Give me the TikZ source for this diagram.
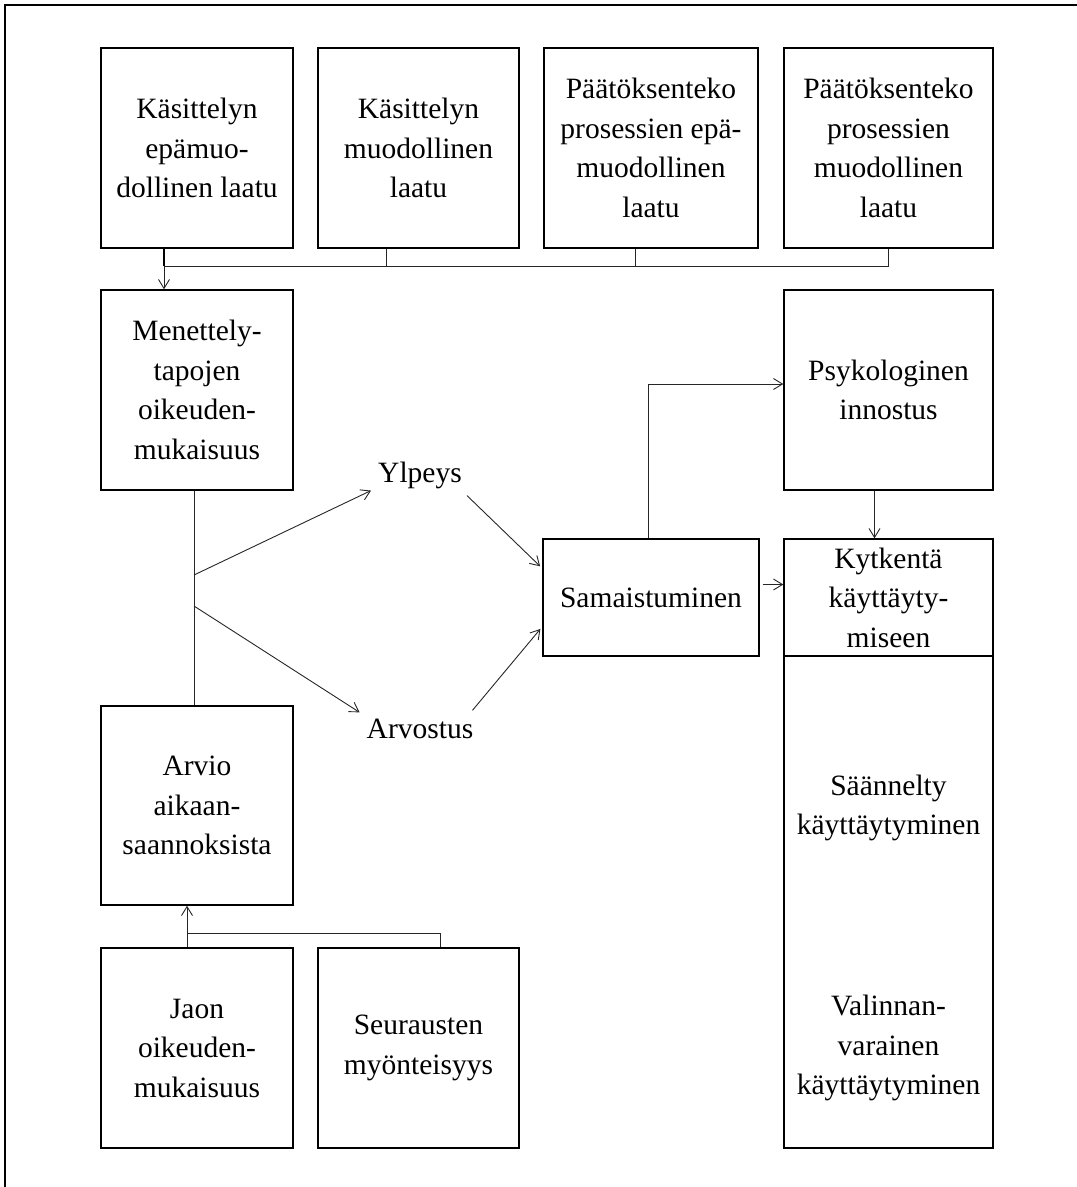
\documentclass[tikz,border=0pt]{standalone}
\usepackage{fontspec}
\setmainfont{Liberation Serif}
\usetikzlibrary{arrows.meta}
\newcommand\diagfont{\fontsize{29.5}{39.5}\selectfont}
\begin{document}
\begin{tikzpicture}[x=1pt,y=-1pt,
  box/.style={draw, line width=1.4pt, rectangle, inner sep=0pt, align=center, font=\diagfont},
  lbl/.style={inner sep=4pt, font=\diagfont, anchor=base},
  conn/.style={line width=0.9pt, draw=black!85},
  arr/.style={conn, -{Straight Barb[length=9pt,width=11pt,line width=0.9pt]}}]
\useasboundingbox (0,0) rectangle (1077,1187);
% page frame
\draw[line width=2.5pt] (5,1187) -- (5,5) -- (1077,5);

% top row
\node[box, minimum width=192pt, minimum height=200pt] (b1) at (197,148)
  {Käsittelyn\\epämuo-\\dollinen laatu};
\node[box, minimum width=201pt, minimum height=200pt] (b2) at (418.5,148)
  {Käsittelyn\\muodollinen\\laatu};
\node[box, minimum width=214pt, minimum height=200pt] (b3) at (651,148)
  {Päätöksenteko\\prosessien epä-\\muodollinen\\laatu};
\node[box, minimum width=209pt, minimum height=200pt] (b4) at (888.5,148)
  {Päätöksenteko\\prosessien\\muodollinen\\laatu};

% left column
\node[box, minimum width=192pt, minimum height=200pt] (men) at (197,390)
  {Menettely-\\tapojen\\oikeuden-\\mukaisuus};
\node[box, minimum width=192pt, minimum height=199pt] (arv) at (197,805.5)
  {Arvio\\aikaan-\\saannoksista};
\node[box, minimum width=192pt, minimum height=200pt] (jaon) at (197,1048)
  {Jaon\\oikeuden-\\mukaisuus};
\node[box, minimum width=201pt, minimum height=200pt] (seu) at (418.5,1048)
  {Seurausten\\myönteisyys};

% middle
\node[lbl] (ylp) at (420,482) {Ylpeys};
\node[lbl] (arvo) at (420,738) {Arvostus};
\node[box, minimum width=216pt, minimum height=117pt] (sam) at (651,597.5) {Samaistuminen};

% right column
\node[box, minimum width=209pt, minimum height=200pt] (psy) at (888.5,390)
  {Psykologinen\\innostus};
\node[box, minimum width=209pt, minimum height=117pt] (kyt) at (888.5,597.5)
  {Kytkentä\\käyttäyty-\\miseen};
\node[box, minimum width=209pt, minimum height=492pt] (low) at (888.5,902) {};
\node[font=\diagfont, align=center, inner sep=0pt] (sae) at (888.5,808)
  {Säännelty\\käyttäytyminen};
\node[font=\diagfont, align=center, inner sep=0pt] (val) at (888.5,1048)
  {Valinnan-\\varainen\\käyttäytyminen};

% bus below the top row
\coordinate (t1) at (164,266);
\coordinate (t2) at (386,266);
\coordinate (t3) at (635,266);
\coordinate (t4) at (888,266);
\draw[conn, line width=1.3pt, draw=black] (b1.south -| t1) -- (t1);
\draw[conn] (t1) -- (t4) -- (b4.south -| t4);
\draw[conn] (b2.south -| t2) -- (t2);
\draw[conn] (b3.south -| t3) -- (t3);
\draw[arr] (t1) -- (men.north -| t1);

% stem between the two left boxes and its branches
\coordinate (ms) at (194,0);
\coordinate (ms1) at (194,575);
\coordinate (ms2) at (194,606);
\draw[conn] (men.south -| ms) -- (arv.north -| ms);
\draw[arr] (ms1) -- ([shift={(-3pt,2pt)}]ylp.south west);
\draw[arr] (ms2) -- ([shift={(-3pt,2pt)}]arvo.north west);
\draw[arr, shorten >=3pt] ([shift={(1pt,-3pt)}]ylp.south east) -- (sam.165);
\draw[arr, shorten >=3pt] ([shift={(-5pt,4pt)}]arvo.north east) -- (sam.195);

% right side connectors
\draw[arr] ([xshift=-3pt]sam.north) |- ([yshift=6pt]psy.west);
\draw[arr] ([xshift=-14pt]psy.south) -- ([xshift=-14pt]kyt.north);
\draw[arr, shorten <=3pt] ([yshift=13pt]sam.east) -- ([yshift=13pt]kyt.west);

% bus below the bottom row
\coordinate (u1) at (187,933);
\coordinate (u2) at (440,933);
\draw[conn] (jaon.north -| u1) -- (u1) -- (u2) -- (seu.north -| u2);
\draw[arr] (u1) -- (arv.south -| u1);
\end{tikzpicture}
\end{document}
